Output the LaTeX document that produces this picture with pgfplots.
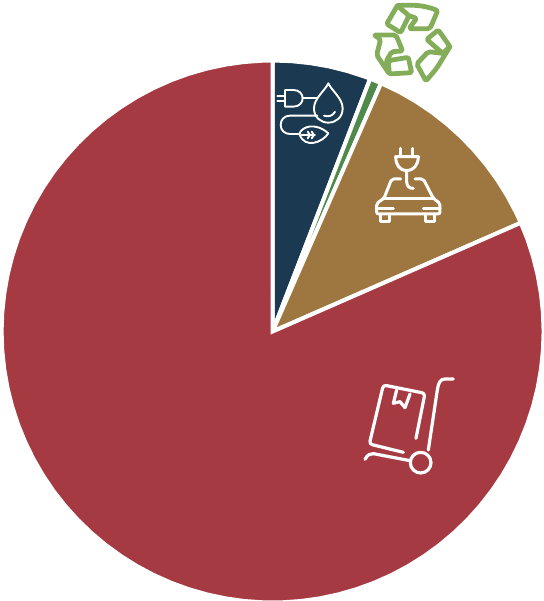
\documentclass[border=0pt]{standalone}
\usepackage{pgfplots}
\pgfplotsset{compat=1.18}
\definecolor{waterblue}{HTML}{1B3A52}
\definecolor{wastegreen}{HTML}{4F8A4B}
\definecolor{fleetbrown}{HTML}{9E763F}
\definecolor{freightred}{HTML}{A63A43}
\definecolor{recyclegreen}{HTML}{84AD5A}
\begin{document}
\begin{tikzpicture}
\useasboundingbox (0,0) rectangle (544bp,601bp);
\begin{axis}[
  at={(0,0)}, anchor=south west,
  scale only axis, width=544bp, height=601bp,
  xmin=-272.6, xmax=271.4, ymin=-269.5, ymax=331.5,
  hide axis, clip=false,
  every axis plot/.append style={data cs=polar, no markers, draw=white, line width=4bp, line join=miter},
]
% wedges as (angle, radius), running clockwise from twelve o'clock
\addplot[fill=waterblue] coordinates {(0,0) (90,271) (86,271) (82,271) (78,271) (74,271) (70,271) (68.9,271)} -- cycle;
\addplot[fill=wastegreen] coordinates {(0,0) (68.9,271) (68,271) (67,271) (66.4,271)} -- cycle;
\addplot[fill=fleetbrown] coordinates {(0,0) (66.4,271) (62,271) (58,271) (54,271) (50,271) (46,271) (42,271) (38,271) (34,271) (30,271) (26,271) (23.65,271)} -- cycle;
\addplot[fill=freightred] coordinates {(0,0) (23.65,271) (20,271) (16,271) (12,271) (8,271) (4,271) (0,271)
 (-4,271) (-8,271) (-12,271) (-16,271) (-20,271) (-24,271) (-28,271) (-32,271) (-36,271) (-40,271)
 (-44,271) (-48,271) (-52,271) (-56,271) (-60,271) (-64,271) (-68,271) (-72,271) (-76,271) (-80,271)
 (-84,271) (-88,271) (-92,271) (-96,271) (-100,271) (-104,271) (-108,271) (-112,271) (-116,271) (-120,271)
 (-124,271) (-128,271) (-132,271) (-136,271) (-140,271) (-144,271) (-148,271) (-152,271) (-156,271) (-160,271)
 (-164,271) (-168,271) (-172,271) (-176,271) (-180,271) (-184,271) (-188,271) (-192,271) (-196,271) (-200,271)
 (-204,271) (-208,271) (-212,271) (-216,271) (-220,271) (-224,271) (-228,271) (-232,271) (-236,271) (-240,271)
 (-244,271) (-248,271) (-252,271) (-256,271) (-260,271) (-264,271) (-268,271) (-270,271)} -- cycle;
\end{axis}

% recycling symbol and energy icon above and on the first wedges
\begin{scope}[shift={(260bp,601bp)},x=0.3333bp,y=-0.3333bp,line join=round,line cap=round]
  \begin{scope}[draw=recyclegreen,line width=4.8bp,rounded corners=2bp]
    \draw (380,72) -- (412,17) -- (447,47) -- (422,98) -- cycle;
    \draw (412,17) .. controls (450,14) and (490,14) .. (533,32) -- (510,86) -- (447,86) -- (470,55) -- (447,47);
    \draw (500,118) -- (535,90) -- (570,140) -- (548,160) -- cycle;
    \draw (570,140) -- (530,205) -- (498,243) -- (470,192) -- (505,155) -- (548,160);
    \draw (385,182) -- (445,172) -- (455,218) -- (388,222) -- cycle;
    \draw (342,105) -- (408,105) -- (428,153) -- (395,155) -- (378,185) -- (388,222) -- (350,165) -- (362,118) -- cycle;
  \end{scope}
  \begin{scope}[draw=white,line width=1.9bp]
    \draw (52,288) -- (75,288) (52,303) -- (75,303);
    \draw (75,270) -- (100,270) .. controls (118,270) and (128,282) .. (128,295) .. controls (128,308) and (118,320) .. (100,320) -- (75,320) -- cycle;
    \draw (128,295) -- (172,295);
    \draw (205,250) .. controls (195,272) and (162,295) .. (162,325) .. controls (162,352) and (182,368) .. (205,368) .. controls (228,368) and (248,352) .. (248,325) .. controls (248,295) and (215,272) .. (205,250) -- cycle;
    \draw (192,347) .. controls (205,352) and (220,347) .. (225,335);
    \draw (172,347) -- (90,347) .. controls (72,347) and (62,360) .. (62,375) .. controls (62,392) and (75,402) .. (90,402) -- (118,402);
    \draw (118,402) .. controls (125,380) and (165,365) .. (205,400) .. controls (190,425) and (135,450) .. (118,402) -- cycle;
    \draw (125,405) -- (165,405);
    \draw (143,395) -- (150,405) -- (143,415) (155,395) -- (162,405) -- (155,415);
  \end{scope}
\end{scope}

% electric car with its plug
\begin{scope}[shift={(360bp,461bp)},x=0.3333bp,y=-0.3333bp,draw=white,line width=3bp,line join=round,line cap=round]
  \draw (122,25) -- (122,50) (158,25) -- (158,50);
  \draw (107,50) -- (175,50) .. controls (175,75) and (160,92) .. (140,92) .. controls (120,92) and (107,75) .. (107,50) -- cycle;
  \draw (140,92) -- (140,125) .. controls (140,140) and (150,146) .. (160,145);
  \draw[rounded corners=2bp] (122,117) -- (95,117) -- (72,175) -- (50,190) -- (50,222) -- (240,222) -- (240,190) -- (220,175) -- (190,117) -- (165,117);
  \draw (72,175) -- (220,175);
  \draw (50,205) -- (100,205) (190,205) -- (240,205);
  \draw (60,225) -- (60,245) -- (88,245) -- (88,225);
  \draw (197,225) -- (197,245) -- (225,245) -- (225,225);
\end{scope}

% hand truck carrying a parcel
\begin{scope}[shift={(350bp,231bp)},x=0.3333bp,y=-0.3333bp,draw=white,line width=3.2bp,line join=round,line cap=round]
  \draw[rounded corners=3bp] (160,247) -- (58,222) -- (100,45) -- (225,70) -- (198,205);
  \draw (140,60) -- (130,100) -- (150,95) -- (165,113) -- (180,72);
  \draw (310,27) -- (285,27) .. controls (270,27) and (265,40) .. (262,60) -- (235,240);
  \draw (45,268) .. controls (52,255) and (60,250) .. (70,251) -- (180,272);
  \draw (212,278) circle [radius=31];
\end{scope}
\end{tikzpicture}
\end{document}
